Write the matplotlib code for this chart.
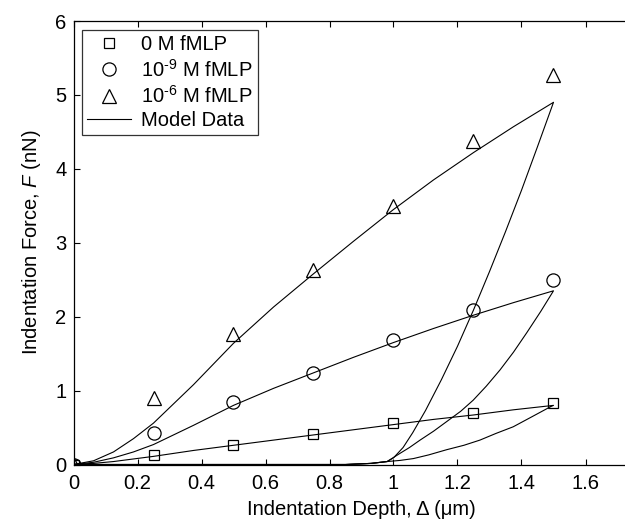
import numpy as np
import matplotlib
matplotlib.use("Agg")
import matplotlib.pyplot as plt

plt.rcParams["font.family"] = ["Liberation Sans", "DejaVu Sans"]
plt.rcParams["mathtext.fontset"] = "custom"
plt.rcParams["mathtext.rm"] = "Liberation Sans"
plt.rcParams["mathtext.it"] = "Liberation Sans:italic"

# measured points
depth = [0, 0.25, 0.5, 0.75, 1.0, 1.25, 1.5]
f_0M = [0, 0.13, 0.27, 0.41, 0.56, 0.69, 0.83]
f_9M = [0, 0.42, 0.84, 1.24, 1.68, 2.09, 2.49]
f_6M = [0, 0.90, 1.77, 2.63, 3.50, 4.38, 5.27]

# model loading curves
load_x = [0, 0.0625, 0.125, 0.1875, 0.25, 0.375, 0.5, 0.625, 0.75, 0.875, 1.0, 1.125, 1.25, 1.375, 1.5]
load_0M = [0, 0.015, 0.04, 0.075, 0.11, 0.19, 0.26, 0.33, 0.40, 0.47, 0.54, 0.61, 0.67, 0.74, 0.80]
load_9M = [0, 0.03, 0.09, 0.17, 0.27, 0.53, 0.80, 1.03, 1.24, 1.45, 1.65, 1.84, 2.02, 2.19, 2.35]
load_6M = [0, 0.05, 0.17, 0.35, 0.56, 1.08, 1.64, 2.13, 2.58, 3.02, 3.45, 3.85, 4.22, 4.57, 4.90]

# model unloading curves (from max depth back to residual depth)
unl_x_0M = [1.5, 1.49, 1.43, 1.374, 1.32, 1.27, 1.22, 1.166, 1.11, 1.062, 1.02, 0.98]
unl_y_0M = [0.80, 0.78, 0.64, 0.51, 0.42, 0.33, 0.26, 0.20, 0.13, 0.08, 0.055, 0.04]
unl_x_9M = [1.5, 1.46, 1.416, 1.375, 1.333, 1.29, 1.249, 1.21, 1.166, 1.125, 1.083, 1.05, 1.02, 0.98]
unl_y_9M = [2.35, 2.07, 1.78, 1.52, 1.28, 1.06, 0.87, 0.72, 0.58, 0.45, 0.33, 0.23, 0.15, 0.04]
unl_x_6M = [1.5, 1.45, 1.4, 1.35, 1.3, 1.25, 1.2, 1.15, 1.1, 1.06, 1.03, 1.0, 0.98]
unl_y_6M = [4.90, 4.30, 3.71, 3.15, 2.61, 2.09, 1.60, 1.15, 0.73, 0.43, 0.23, 0.09, 0.04]

# zero-force segment back to origin
flat_x = [0.98, 0.93, 0.85, 0.0]
flat_y = [0.04, 0.015, 0.0, 0.0]

W, H = 625, 532
fig = plt.figure(figsize=(W / 100, H / 100), dpi=100)
left, bottom, top = 73.5 / W, (H - 464.5) / H, (H - 21) / H
ax = fig.add_axes([left, bottom, 576 / W, top - bottom])

mk = dict(linestyle="none", markerfacecolor="none", markeredgecolor="black",
          markeredgewidth=0.9)
h1, = ax.plot(depth, f_0M, marker="s", markersize=7.5, label="0 M fMLP", **mk)
h2, = ax.plot(depth, f_9M, marker="o", markersize=9.5, label=r"10$^{\text{-9}}$ M fMLP", **mk)
h3, = ax.plot(depth, f_6M, marker="^", markersize=10, label=r"10$^{\text{-6}}$ M fMLP", **mk)

for lx, ly, ux, uy in [(load_x, load_0M, unl_x_0M, unl_y_0M),
                       (load_x, load_9M, unl_x_9M, unl_y_9M),
                       (load_x, load_6M, unl_x_6M, unl_y_6M)]:
    xs = np.concatenate([lx, ux, flat_x])
    ys = np.concatenate([ly, uy, flat_y])
    hm, = ax.plot(xs, ys, color="black", linewidth=0.8, label="Model Data")

ax.set_xlim(0, 1.8)
ax.set_ylim(0, 6)
ax.set_xticks([0, 0.2, 0.4, 0.6, 0.8, 1.0, 1.2, 1.4, 1.6])
ax.set_xticklabels(["0", "0.2", "0.4", "0.6", "0.8", "1", "1.2", "1.4", "1.6"])
ax.set_yticks([0, 1, 2, 3, 4, 5, 6])
ax.tick_params(direction="in", length=4, width=0.8, labelsize=14.5,
               top=True, right=True)
ax.tick_params(axis="x", pad=7)
ax.tick_params(axis="y", pad=5)
for s in ax.spines.values():
    s.set_linewidth(0.9)

ax.set_xlabel("Indentation Depth, Δ (μm)", fontsize=14.5, labelpad=5)
ax.set_ylabel(r"Indentation Force, $\it{F}$ (nN)", fontsize=14.5, labelpad=9)

leg = ax.legend(handles=[h1, h2, h3, hm], loc="upper left",
                bbox_to_anchor=(8.5 / 576, 1 - 9 / 443.5),
                borderaxespad=0, fontsize=14.5, frameon=True, fancybox=False,
                edgecolor="black", handlelength=2.2, handletextpad=0.5,
                labelspacing=0.22, borderpad=0.25)
leg.get_frame().set_linewidth(0.9)

fig.savefig("out.png", dpi=100)
